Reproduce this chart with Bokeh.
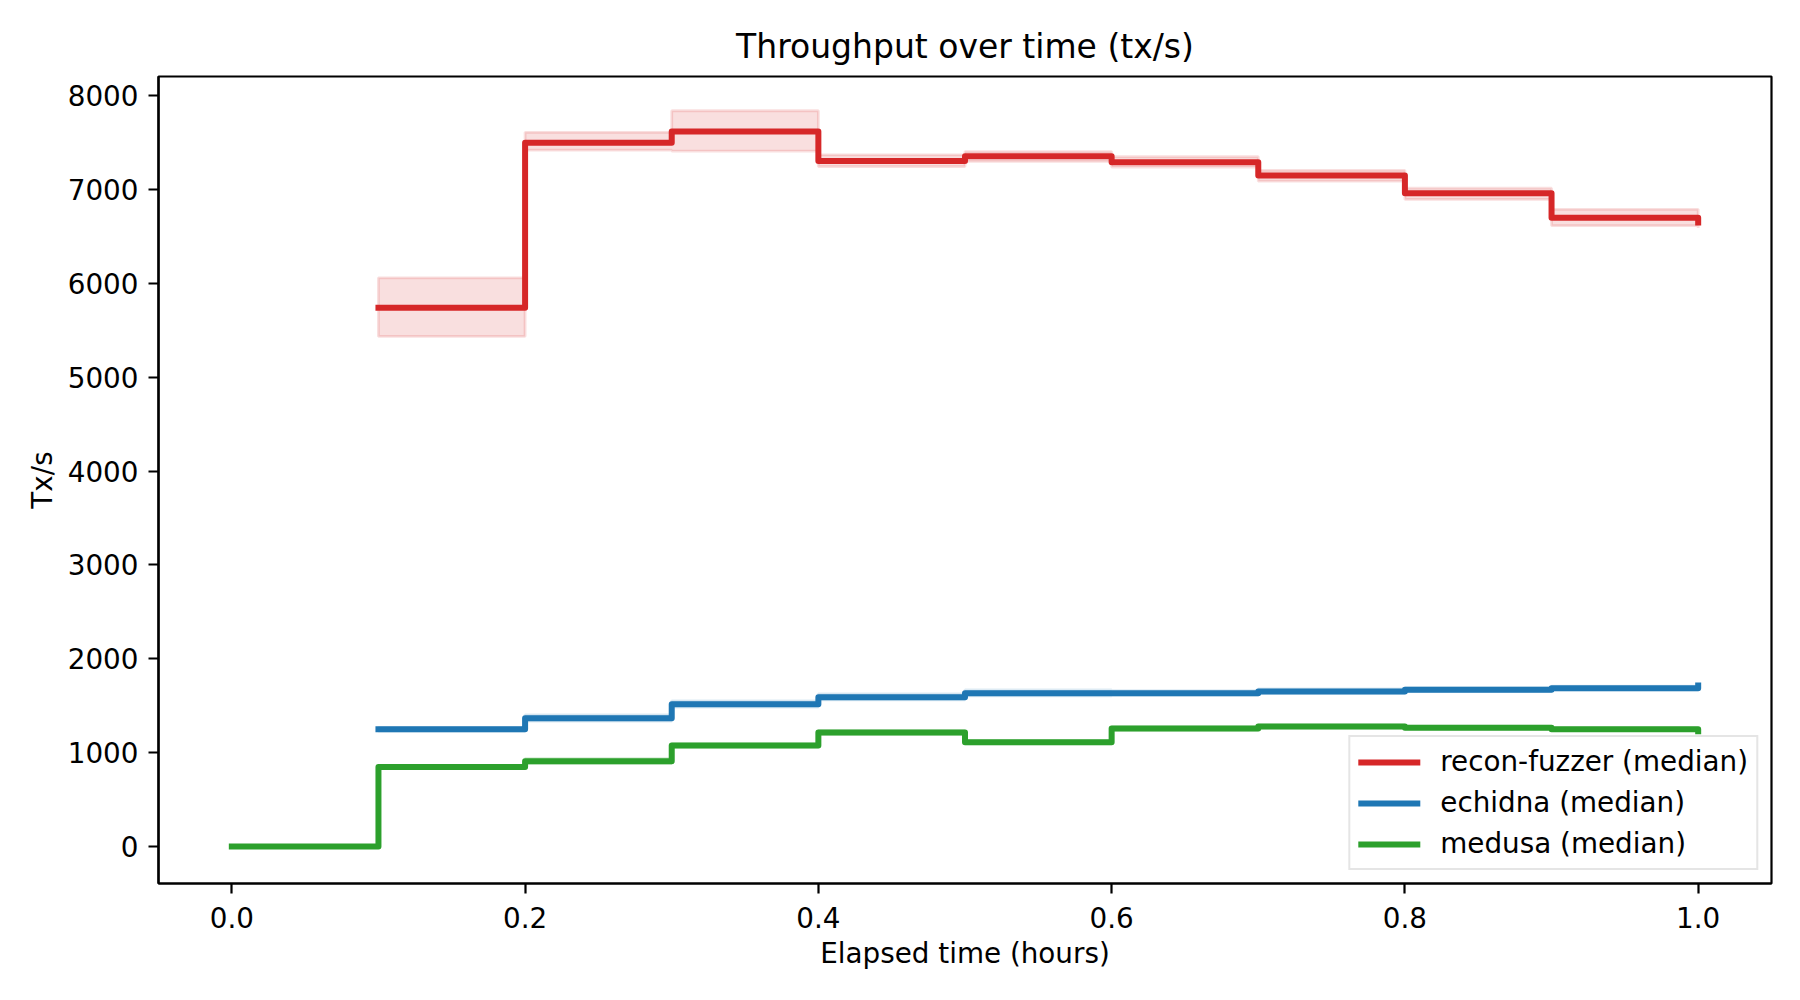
from bokeh.plotting import figure
from bokeh.models import Range1d, FixedTicker, PrintfTickFormatter
from bokeh.embed import file_html
from bokeh.resources import INLINE

# sample times (hours); recon-fuzzer and echidna start at 0.1
hours = [0.0, 0.1, 0.2, 0.3, 0.4, 0.5, 0.6, 0.7, 0.8, 0.9, 1.0]

recon_hours = [0.1, 0.2, 0.3, 0.4, 0.5, 0.6, 0.7, 0.8, 0.9, 1.0]
recon_median = [5740, 7500, 7620, 7305, 7355, 7290, 7150, 6960, 6700, 6650]
recon_low = [5435, 7420, 7410, 7245, 7300, 7240, 7090, 6895, 6615, 6590]
recon_high = [6060, 7610, 7840, 7370, 7405, 7350, 7205, 7015, 6790, 6700]

echidna_hours = [0.1, 0.2, 0.3, 0.4, 0.5, 0.6, 0.7, 0.8, 0.9, 1.0]
echidna_median = [1250, 1365, 1515, 1590, 1632, 1632, 1652, 1669, 1686, 1715]
echidna_low = [1228, 1335, 1485, 1562, 1605, 1612, 1632, 1650, 1668, 1700]
echidna_high = [1268, 1402, 1552, 1626, 1668, 1660, 1680, 1692, 1708, 1732]

medusa_hours = hours
medusa_median = [0, 846, 907, 1075, 1214, 1111, 1257, 1278, 1264, 1249, 1228]
medusa_low = [0, 830, 882, 1056, 1192, 1092, 1238, 1262, 1250, 1236, 1215]
medusa_high = [0, 862, 938, 1096, 1236, 1130, 1276, 1296, 1282, 1266, 1242]

x_ticks = [0.0, 0.2, 0.4, 0.6, 0.8, 1.0]
y_ticks = [0, 1000, 2000, 3000, 4000, 5000, 6000, 7000, 8000]

FONT = "DejaVu Sans"


def step_band(x, lo, hi):
    # polygon of a "post" step band, like fill_between(step="post")
    xs, ys = [], []
    for i in range(len(x)):
        if i > 0:
            xs.append(x[i]); ys.append(hi[i - 1])
        xs.append(x[i]); ys.append(hi[i])
    for i in range(len(x) - 1, -1, -1):
        xs.append(x[i]); ys.append(lo[i])
        if i > 0:
            xs.append(x[i]); ys.append(lo[i - 1])
    return xs, ys


p = figure(width=1784, height=984, x_range=Range1d(-0.05, 1.05), y_range=Range1d(-395, 8205),
           title="Throughput over time (tx/s)", output_backend="svg", toolbar_location=None,
           min_border_left=158, min_border_right=13, min_border_top=76, min_border_bottom=101)

series = [
    ("recon-fuzzer (median)", "#d62728", recon_hours, recon_median, recon_low, recon_high),
    ("echidna (median)", "#1f77b4", echidna_hours, echidna_median, echidna_low, echidna_high),
    ("medusa (median)", "#2ca02c", medusa_hours, medusa_median, medusa_low, medusa_high),
]

for name, color, x, med, lo, hi in series:
    bx, by = step_band(x, lo, hi)
    p.patch(bx, by, fill_color=color, fill_alpha=0.15, line_color=color, line_alpha=0.15, line_width=2.8)
    p.step(x, med, mode="after", line_color=color, line_width=6, line_join="round",
           line_cap="square", legend_label=name)

p.title.text_font = FONT
p.title.text_font_size = "33px"
p.title.text_font_style = "normal"
p.title.text_color = "black"
p.title.align = "center"
p.title.standoff = 22

p.xgrid.visible = False
p.ygrid.visible = False
p.outline_line_color = "black"
p.outline_line_width = 2.2

p.xaxis.ticker = FixedTicker(ticks=x_ticks)
p.xaxis.formatter = PrintfTickFormatter(format="%.1f")
p.yaxis.ticker = FixedTicker(ticks=y_ticks)
p.xaxis.axis_label = "Elapsed time (hours)"
p.yaxis.axis_label = "Tx/s"

for ax in p.axis:
    ax.axis_line_width = 2.2
    ax.major_tick_line_width = 2.2
    ax.major_tick_out = 10
    ax.major_tick_in = 0
    ax.minor_tick_out = 0
    ax.minor_tick_in = 0
    ax.major_label_standoff = 10
    ax.major_label_text_font = FONT
    ax.major_label_text_font_size = "27.8px"
    ax.major_label_text_color = "black"
    ax.axis_label_text_font = FONT
    ax.axis_label_text_font_size = "27.8px"
    ax.axis_label_text_font_style = "normal"
    ax.axis_label_text_color = "black"
    ax.axis_label_standoff = 6
p.xaxis.major_label_standoff = 13

lg = p.legend[0]
lg.location = "bottom_right"
lg.margin = 13
lg.padding = 8
lg.spacing = 8
lg.glyph_width = 62
lg.glyph_height = 30
lg.label_height = 30
lg.label_standoff = 20
lg.label_text_font = FONT
lg.label_text_font_size = "27.8px"
lg.label_text_color = "black"
lg.border_line_color = "#cccccc"
lg.border_line_width = 2.8
lg.background_fill_alpha = 0.8

open("out.html", "w").write(file_html(p, INLINE))
